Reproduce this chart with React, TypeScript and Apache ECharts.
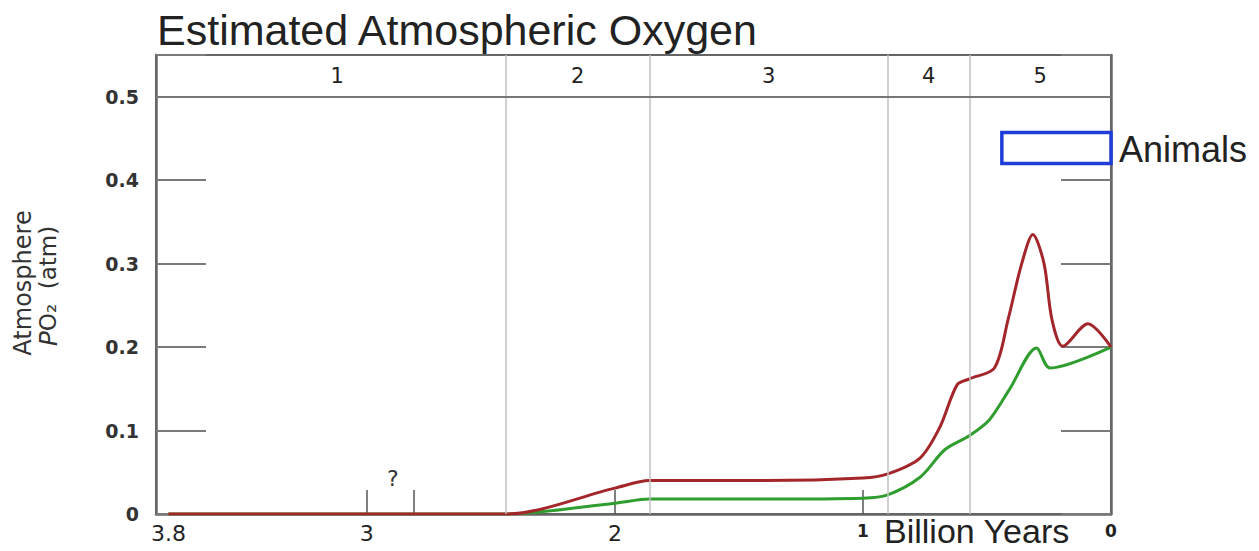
import React, { useEffect, useRef } from "react";
import * as echarts from "echarts";

// ---- data (age in billion years ago, O2 partial pressure in atm) ----
const redAge = [3.8, 2.44, 2.0, 1.86, 1.4, 1.0, 0.9, 0.77, 0.69, 0.62, 0.57, 0.47, 0.415, 0.36, 0.315, 0.27, 0.238, 0.194, 0.093, 0.0];
const redO2 = [0.0, 0.0, 0.031, 0.04, 0.04, 0.043, 0.048, 0.067, 0.104, 0.155, 0.162, 0.175, 0.233, 0.3, 0.335, 0.3, 0.233, 0.201, 0.228, 0.2];
const greenAge = [3.8, 2.44, 2.0, 1.86, 1.4, 1.0, 0.9, 0.77, 0.67, 0.57, 0.49, 0.41, 0.3, 0.246, 0.0];
const greenO2 = [0.0, 0.0, 0.013, 0.018, 0.018, 0.019, 0.023, 0.044, 0.077, 0.094, 0.113, 0.149, 0.199, 0.175, 0.2];

const periodBounds = [3.8, 2.44, 1.86, 0.9, 0.57, 0.0];
const periodLabels = ["1", "2", "3", "4", "5"];
const xLabelValues = [0, 1, 2, 3, 3.8];
const xTickValues = [1, 2, 2.81, 3];
const yTickLabels = ["0", "0.1", "0.2", "0.3", "0.4", "0.5"];
const animalsBox = { ageFrom: 0.44, ageTo: 0.0, o2From: 0.42, o2To: 0.457 };
const questionMark = { age: 2.895, o2: 0.042 };

export default function App() {
  const ref = useRef<HTMLDivElement>(null);
  useEffect(() => {
    document.body.style.margin = "0";
    const chart = echarts.init(ref.current!, null, { renderer: "svg" });
    const red = redAge.map((a, i) => [a, redO2[i]]);
    const green = greenAge.map((a, i) => [a, greenO2[i]]);

    const periodAreas = periodLabels.map((lab, i) => [
      { name: lab, xAxis: periodBounds[i], yAxis: 0.5 },
      { xAxis: periodBounds[i + 1], yAxis: 0.55 },
    ]);

    chart.setOption({
      animation: false,
      backgroundColor: "#fff",
      title: {
        text: "Estimated Atmospheric Oxygen",
        left: 152,
        top: 3,
        textStyle: { fontFamily: "Liberation Sans", fontSize: 43, fontWeight: "normal", color: "#222" },
      },
      grid: {
        left: 156,
        right: 148,
        top: 55,
        bottom: 37,
        show: true,
        borderColor: "#666",
        borderWidth: 2,
      },
      xAxis: {
        type: "value",
        inverse: true,
        min: 0,
        max: 3.85,
        splitLine: { show: false },
        axisLine: { show: true, onZero: false, lineStyle: { color: "#666", width: 2.5 } },
        axisTick: {
          show: true,
          inside: true,
          length: 24,
          customValues: xTickValues,
          lineStyle: { color: "#555", width: 1.5 },
        },
        axisLabel: {
          customValues: xLabelValues,
          margin: 8,
          fontFamily: "DejaVu Sans",
          fontSize: 22,
          color: "#222",
          formatter: (v: number) => (v <= 1 ? "{s|" + String(v) + "}" : String(v)),
          rich: { s: { fontFamily: "DejaVu Sans", fontSize: 17, fontWeight: "bold", color: "#222" } },
        },
      },
      yAxis: [
        {
          type: "value",
          min: 0,
          max: 0.55,
          interval: 0.1,
          position: "left",
          splitLine: { show: false },
          axisLine: { show: true, onZero: false, lineStyle: { color: "#666", width: 2.5 } },
          axisTick: { show: true, inside: true, length: 50, lineStyle: { color: "#7a7a7a", width: 2 } },
          axisLabel: {
            margin: 17,
            fontFamily: "DejaVu Sans",
            fontWeight: "bold",
            fontSize: 19,
            color: "#333",
            formatter: (v: number) => {
              const idx = Math.round(v * 10);
              return v > 0.501 ? "" : yTickLabels[idx];
            },
          },
        },
        {
          type: "value",
          min: 0,
          max: 0.55,
          interval: 0.1,
          position: "right",
          splitLine: { show: false },
          axisLine: { show: true, onZero: false, lineStyle: { color: "#666", width: 2.5 } },
          axisTick: { show: true, inside: true, length: 50, lineStyle: { color: "#7a7a7a", width: 2 } },
          axisLabel: { show: false },
        },
      ],
      series: [
        {
          type: "line",
          name: "green",
          data: green,
          smooth: 0.3,
          symbol: "none",
          z: 3,
          lineStyle: { color: "#2f9e2f", width: 3 },
          markLine: {
            silent: true,
            symbol: ["none", "none"],
            label: { show: false },
            data: [
              ...periodBounds.slice(1, 5).map((b) => ({ xAxis: b, lineStyle: { color: "#c2c2c2", width: 1.5, type: "solid" } })),
              { yAxis: 0.5, lineStyle: { color: "#777", width: 2, type: "solid" } },
            ],
          },
          markArea: {
            silent: true,
            itemStyle: { color: "rgba(0,0,0,0)" },
            label: {
              show: true,
              position: "inside",
              fontFamily: "DejaVu Sans",
              fontSize: 21,
              color: "#222",
            },
            data: [
              ...periodAreas,
              [
                {
                  name: "",
                  xAxis: animalsBox.ageFrom,
                  yAxis: animalsBox.o2From,
                  itemStyle: { color: "rgba(0,0,0,0)", borderColor: "#1f3ed8", borderWidth: 3.5 },
                  label: { show: false },
                },
                { xAxis: animalsBox.ageTo, yAxis: animalsBox.o2To },
              ],
            ],
          },
        },
        {
          type: "line",
          name: "red",
          data: red,
          smooth: 0.3,
          symbol: "none",
          z: 4,
          lineStyle: { color: "#a3262b", width: 3 },
          markPoint: {
            silent: true,
            symbol: "circle",
            symbolSize: 1,
            itemStyle: { color: "rgba(0,0,0,0)" },
            label: {
              show: true,
              position: "inside",
              formatter: "?",
              fontFamily: "DejaVu Sans",
              fontSize: 22,
              color: "#333",
            },
            data: [{ coord: [questionMark.age, questionMark.o2] }],
          },
        },
      ],
      graphic: [
        {
          type: "text",
          x: 884,
          y: 531,
          style: {
            text: "Billion Years",
            fontFamily: "Liberation Sans",
            fontSize: 34,
            verticalAlign: "middle",
            align: "left",
            fill: "#222",
          },
        },
        {
          type: "text",
          left: 1119,
          top: 131,
          style: { text: "Animals", fontFamily: "Liberation Sans", fontSize: 36, fill: "#222" },
        },
        {
          type: "text",
          x: 23,
          y: 283,
          rotation: Math.PI / 2,
          style: {
            text: "Atmosphere",
            fontFamily: "DejaVu Sans",
            fontSize: 24,
            fill: "#333",
            align: "center",
            verticalAlign: "middle",
          },
        },
        {
          type: "text",
          x: 48,
          y: 286,
          rotation: Math.PI / 2,
          style: {
            text: "{i|P}O₂  (atm)",
            fontFamily: "DejaVu Sans",
            fontSize: 23,
            fill: "#333",
            align: "center",
            verticalAlign: "middle",
            rich: { i: { fontFamily: "DejaVu Sans", fontStyle: "italic", fontSize: 25, fill: "#333" } },
          },
        },
      ],
    });
    return () => chart.dispose();
  }, []);
  return <div ref={ref} style={{ position: "fixed", left: 0, top: 0, width: 1259, height: 551 }} />;
}
